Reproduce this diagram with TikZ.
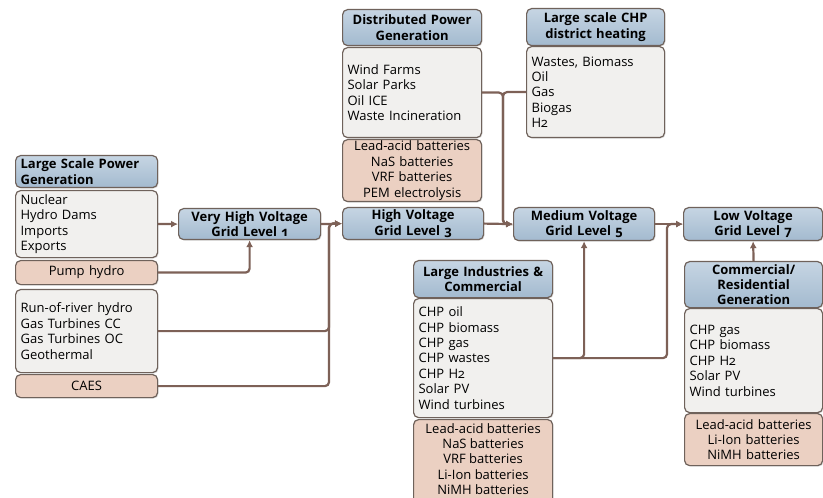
\documentclass[tikz,border=0pt]{standalone}
\usepackage{fontspec}
\setmainfont{Open Sans}[Numbers=OldStyle]
\usetikzlibrary{arrows.meta,shadows}
\definecolor{bcol}{HTML}{6F625B}
\definecolor{hdrtop}{HTML}{C6D5E3}
\definecolor{hdrbot}{HTML}{A3BACF}
\definecolor{bodycol}{HTML}{F1F0EE}
\definecolor{storcol}{HTML}{EBD0C2}
\definecolor{conncol}{HTML}{7D6157}
\tikzset{
  txt/.style={font=\fontsize{13bp}{15.4bp}\selectfont},
  box/.style={draw=bcol, line width=1.2bp, rounded corners=5bp, anchor=north west,
    inner xsep=5bp, inner ysep=0pt, align=left, txt,
    drop shadow={opacity=0.25, shadow xshift=1bp, shadow yshift=-1bp}},
  hdr/.style={box, top color=hdrtop, bottom color=hdrbot, align=center,
    font=\fontsize{13bp}{15.4bp}\selectfont\bfseries},
  body/.style={box, fill=bodycol},
  stor/.style={box, fill=storcol, align=center},
  conn/.style={draw=conncol, line width=2.2bp, rounded corners=4bp,
    -{Latex[length=7bp,width=7bp]}},
}
\begin{document}
\begin{tikzpicture}[x=1bp,y=-1bp]
\useasboundingbox (0,0) rectangle (823,498);
% left column
\node[hdr, align=left, text width=132bp, minimum height=32bp] (lsph) at (15,155) {Large Scale Power\\Generation};
\node[body, text width=132bp, minimum height=67bp] (lspb) at (15,190) {Nuclear\\Hydro Dams\\Imports\\Exports};
\node[stor, text width=132bp, minimum height=24bp] (pump) at (15,260) {Pump hydro};
\node[body, text width=132bp, minimum height=83bp] (ror) at (15,289) {Run-of-river hydro\\Gas Turbines CC\\Gas Turbines OC\\Geothermal};
\node[stor, text width=132bp, minimum height=23bp] (caes) at (15,374) {CAES};
% voltage levels
\node[hdr, text width=132bp, minimum height=31bp] (vhv) at (178,208) {Very High Voltage\\Grid Level 1};
\node[hdr, text width=131bp, minimum height=32bp] (hv) at (342,207) {High Voltage\\Grid Level 3};
\node[hdr, text width=131bp, minimum height=33bp] (mv) at (513,207) {Medium Voltage\\Grid Level 5};
\node[hdr, text width=129bp, minimum height=33bp] (lv) at (683,207) {Low Voltage\\Grid Level 7};
% distributed
\node[hdr, text width=129bp, minimum height=36bp] (dpgh) at (342,9) {Distributed Power\\Generation};
\node[body, text width=129bp, minimum height=90bp] (dpgb) at (342,47) {Wind Farms\\Solar Parks\\Oil ICE\\Waste Incineration};
\node[stor, text width=129bp, minimum height=62bp] (dpgs) at (342,139) {Lead-acid batteries\\NaS batteries\\VRF batteries\\PEM electrolysis};
% CHP
\node[hdr, text width=128bp, minimum height=37bp] (chph) at (526,8) {Large scale CHP\\district heating};
\node[body, text width=128bp, minimum height=91bp] (chpb) at (526,46) {Wastes, Biomass\\Oil\\Gas\\Biogas\\H2};
% industries
\node[hdr, text width=129bp, minimum height=37bp] (lih) at (413,260) {Large Industries \&\\Commercial};
\node[body, text width=129bp, minimum height=119bp] (lib) at (413,298) {CHP oil\\CHP biomass\\CHP gas\\CHP wastes\\CHP H2\\Solar PV\\Wind turbines};
\node[stor, text width=129bp, minimum height=95bp] (lis) at (413,419) {};
\node[txt, anchor=north, inner sep=0pt, align=center] (listext) at ([yshift=-4bp]lis.north) {Lead-acid batteries\\NaS batteries\\VRF batteries\\Li-Ion batteries\\NiMH batteries};
% commercial
\node[hdr, text width=128bp, minimum height=46bp] (comh) at (684,261) {Commercial/\\Residential\\Generation};
\node[body, text width=128bp, minimum height=104bp] (comb) at (684,308) {CHP gas\\CHP biomass\\CHP H2\\Solar PV\\Wind turbines};
\node[stor, text width=128bp, minimum height=52bp] (coms) at (684,413) {Lead-acid batteries\\Li-Ion batteries\\NiMH batteries};
% junctions
\path (hv.west) ++(-13,0) coordinate (j1);
\path (mv.west) ++(-10,0) coordinate (j2);
\path (lv.west) ++(-16,0) coordinate (j3);
% connectors
\draw[conn] (lspb.east) -- (vhv.west);
\draw[conn] (pump.east) -| (vhv.south);
\draw[conn] (vhv.east) -- (hv.west);
\draw[conn] (ror.east) -| (j1) -- (hv.west);
\draw[conn] (caes.east) -| (j1) -- (hv.west);
\draw[conn] (hv.east) -- (mv.west);
\draw[conn] (dpgb.east) -| (j2) -- (mv.west);
\draw[conn] (chpb.west) -| (j2) -- (mv.west);
\draw[conn] (mv.east) -- (lv.west);
\draw[conn] (lib.east) -| (mv.south);
\draw[conn] (lib.east) -| (j3) -- (lv.west);
\draw[conn] (comh.north) -- (lv.south);
\end{tikzpicture}
\end{document}
